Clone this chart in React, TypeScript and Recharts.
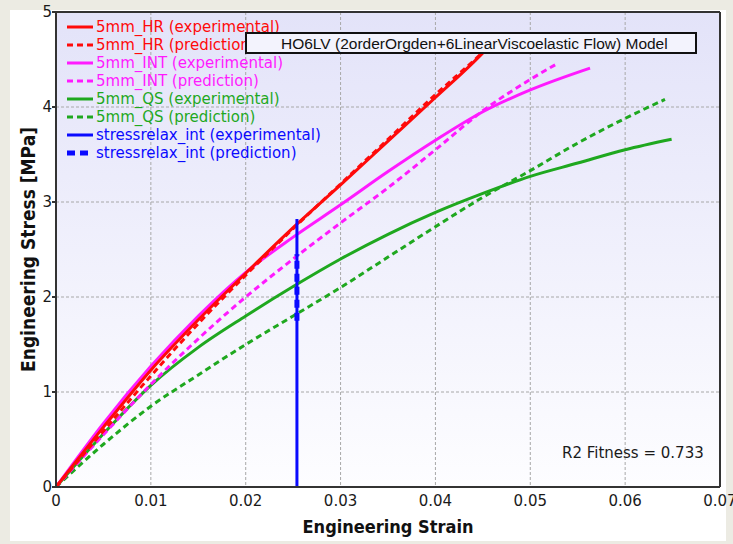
import { LineChart, Line, XAxis, YAxis, CartesianGrid, ReferenceLine, Label } from "recharts";

// strain / stress pairs
const hrExperimental = [[0, 0], [0.005, 0.63], [0.01, 1.23], [0.015, 1.76], [0.02, 2.25], [0.025, 2.73], [0.03, 3.18], [0.035, 3.64], [0.04, 4.1], [0.044, 4.47], [0.0455, 4.62]];
const hrPrediction = [[0, 0], [0.005, 0.59], [0.01, 1.17], [0.015, 1.72], [0.02, 2.23], [0.025, 2.72], [0.03, 3.19], [0.035, 3.66], [0.04, 4.13], [0.0445, 4.53], [0.046, 4.67]];
const intExperimental = [[0, 0], [0.005, 0.67], [0.01, 1.27], [0.015, 1.8], [0.02, 2.26], [0.025, 2.63], [0.03, 2.97], [0.035, 3.32], [0.04, 3.65], [0.045, 3.95], [0.05, 4.18], [0.0563, 4.41]];
const intPrediction = [[0, 0], [0.005, 0.55], [0.01, 1.08], [0.015, 1.56], [0.02, 2.0], [0.025, 2.4], [0.03, 2.78], [0.035, 3.15], [0.04, 3.55], [0.045, 3.96], [0.05, 4.29], [0.0529, 4.46]];
const qsExperimental = [[0, 0], [0.005, 0.56], [0.01, 1.07], [0.015, 1.47], [0.02, 1.8], [0.025, 2.11], [0.03, 2.4], [0.035, 2.66], [0.04, 2.89], [0.045, 3.09], [0.05, 3.27], [0.055, 3.41], [0.06, 3.55], [0.0649, 3.66]];
const qsPrediction = [[0, 0], [0.005, 0.45], [0.01, 0.85], [0.015, 1.18], [0.02, 1.5], [0.025, 1.8], [0.03, 2.1], [0.035, 2.42], [0.04, 2.74], [0.045, 3.05], [0.05, 3.33], [0.055, 3.62], [0.06, 3.88], [0.0642, 4.08]];
const relaxExperimental = [[0.0254, 0], [0.0254, 2.82]];
const relaxPrediction = [[0.0254, 1.75], [0.0254, 2.45]];

const strainTicks = [0, 0.01, 0.02, 0.03, 0.04, 0.05, 0.06, 0.07];
const stressTicks = [0, 1, 2, 3, 4, 5];

const RED = "#ff0a0a";
const MAGENTA = "#ff1aff";
const GREEN = "#1fa81f";
const BLUE = "#0a0aff";

const SERIES = [
  { name: "5mm_QS (prediction)", data: qsPrediction, color: GREEN, dash: "6 4", width: 3, type: "monotone" },
  { name: "5mm_QS (experimental)", data: qsExperimental, color: GREEN, dash: undefined, width: 3, type: "monotone" },
  { name: "5mm_INT (prediction)", data: intPrediction, color: MAGENTA, dash: "6 4", width: 3, type: "monotone" },
  { name: "5mm_INT (experimental)", data: intExperimental, color: MAGENTA, dash: undefined, width: 3, type: "monotone" },
  { name: "5mm_HR (experimental)", data: hrExperimental, color: RED, dash: undefined, width: 3, type: "monotone" },
  { name: "5mm_HR (prediction)", data: hrPrediction, color: RED, dash: "6 4", width: 3, type: "monotone" },
  { name: "stressrelax_int (experimental)", data: relaxExperimental, color: BLUE, dash: undefined, width: 3, type: "linear" },
  { name: "stressrelax_int (prediction)", data: relaxPrediction, color: BLUE, dash: "8 5", width: 5, type: "linear" },
];

const LEGEND_ORDER = [
  "5mm_HR (experimental)",
  "5mm_HR (prediction)",
  "5mm_INT (experimental)",
  "5mm_INT (prediction)",
  "5mm_QS (experimental)",
  "5mm_QS (prediction)",
  "stressrelax_int (experimental)",
  "stressrelax_int (prediction)",
];

const toPoints = (pairs: number[][]) => pairs.map(([x, y]) => ({ x, y }));

export default function App() {
  return (
    <div style={{ position: "absolute", left: 0, top: 0, width: 733, height: 544, background: "#ecebe3", overflow: "hidden" }}>
      {/* gradient for the plot background */}
      <svg width={0} height={0} style={{ position: "absolute" }}>
        <defs>
          <linearGradient id="plotBg" x1="0" y1="0" x2="0" y2="1">
            <stop offset="0%" stopColor="#e3e3f9" />
            <stop offset="100%" stopColor="#fdfdff" />
          </linearGradient>
        </defs>
      </svg>
      <div style={{ position: "absolute", left: 10, top: 10, width: 716, height: 531, background: "#ffffff" }} />

      <div style={{ position: "absolute", left: 0, top: 0 }}>
        <LineChart
          width={733}
          height={544}
          margin={{ top: 12, right: 13, left: 12, bottom: 17 }}
          style={{ fontFamily: "'DejaVu Sans', sans-serif" }}
        >
          <CartesianGrid
            fill="url(#plotBg)"
            stroke="#a8a8a8"
            strokeDasharray="3 2"
            horizontalValues={[1, 2, 3, 4]}
            verticalValues={[0.01, 0.02, 0.03, 0.04, 0.05, 0.06]}
          />
          <XAxis
            type="number"
            dataKey="x"
            domain={[0, 0.07]}
            ticks={strainTicks}
            allowDataOverflow
            height={40}
            tickSize={0}
            tickMargin={8}
            tickFormatter={(v: number) => (v === 0 ? "0" : String(v))}
            tick={{ fill: "#1a1a1a", fontSize: 15 }}
            axisLine={{ stroke: "#333", strokeWidth: 2 }}
          >
            <Label
              value="Engineering Strain"
              position="bottom"
              offset={-7}
              style={{ fontFamily: "'DejaVu Sans Condensed', 'DejaVu Sans', sans-serif", fontWeight: "bold", fontSize: 18, fill: "#111" }}
            />
          </XAxis>
          <YAxis
            type="number"
            dataKey="y"
            domain={[0, 5]}
            ticks={stressTicks}
            allowDataOverflow
            width={44}
            tickSize={4}
            tickMargin={0}
            tick={{ fill: "#1a1a1a", fontSize: 15 }}
            tickLine={{ stroke: "#333", strokeWidth: 2 }}
            axisLine={{ stroke: "#333", strokeWidth: 2 }}
          >
            <Label
              value="Engineering Stress [MPa]"
              position="insideLeft"
              angle={-90}
              offset={16}
              style={{ textAnchor: "middle", fontFamily: "'DejaVu Sans Condensed', 'DejaVu Sans', sans-serif", fontWeight: "bold", fontSize: 19, fill: "#111" }}
            />
          </YAxis>
          <ReferenceLine y={5} stroke="#333" strokeWidth={2} ifOverflow="visible" />
          <ReferenceLine x={0.07} stroke="#333" strokeWidth={2} ifOverflow="visible" />
          {SERIES.map((s) => (
            <Line
              key={s.name}
              data={toPoints(s.data)}
              dataKey="y"
              name={s.name}
              type={s.type as any}
              stroke={s.color}
              strokeWidth={s.width}
              strokeDasharray={s.dash}
              dot={false}
              activeDot={false}
              isAnimationActive={false}
            />
          ))}
        </LineChart>
      </div>

      {/* Legend */}
      <div style={{ position: "absolute", left: 67, top: 18.5, fontFamily: "'DejaVu Sans', sans-serif", fontSize: 15 }}>
        {LEGEND_ORDER.map((name) => {
          const s = SERIES.find((d) => d.name === name)!;
          return (
            <div key={name} style={{ display: "flex", alignItems: "center", height: 17.9, color: s.color, whiteSpace: "nowrap" }}>
              <svg width={26} height={8} style={{ marginRight: 3 }}>
                <line x1={0} y1={4} x2={26} y2={4} stroke={s.color} strokeWidth={s.width} strokeDasharray={s.dash} />
              </svg>
              <span>{name}</span>
            </div>
          );
        })}
      </div>

      {/* Title box */}
      <div
        style={{
          position: "absolute",
          left: 245,
          top: 32,
          width: 414,
          height: 18,
          border: "2px solid #111",
          background: "#f3f3fd",
          fontFamily: "'Liberation Sans', Arial, sans-serif",
          fontSize: 15.5,
          lineHeight: "19px",
          color: "#111",
          paddingLeft: 34,
          boxSizing: "content-box",
          overflow: "hidden",
          whiteSpace: "nowrap",
        }}
      >
        HO6LV (2orderOrgden+6LinearViscoelastic Flow) Model
      </div>

      {/* Fitness */}
      <div
        style={{
          position: "absolute",
          left: 562,
          top: 444,
          fontFamily: "'DejaVu Sans', sans-serif",
          fontSize: 15,
          color: "#1a1a1a",
          whiteSpace: "nowrap",
        }}
      >
        R2 Fitness = 0.733
      </div>
    </div>
  );
}
